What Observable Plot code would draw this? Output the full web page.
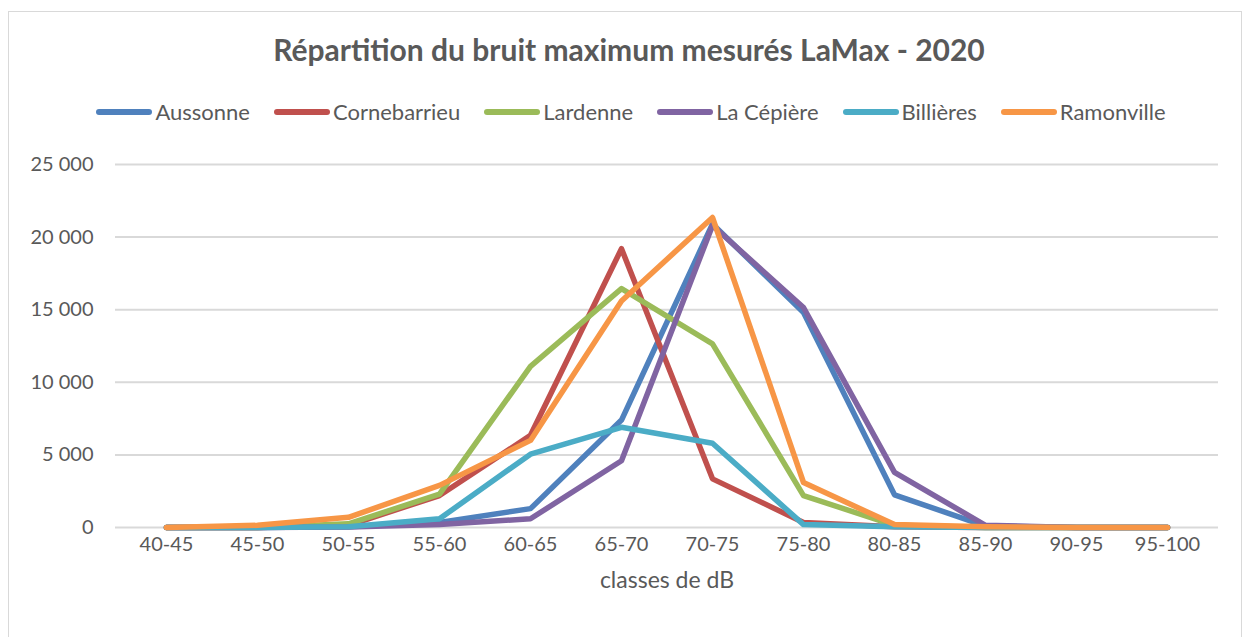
<!DOCTYPE html>
<html>
<head>
<meta charset="utf-8">
<script src="https://cdn.jsdelivr.net/npm/d3@7"></script>
<script src="https://cdn.jsdelivr.net/npm/@observablehq/plot@0.6"></script>
<style>
  html, body { margin: 0; padding: 0; background: #fff; }
  #chart { position: relative; width: 1248px; height: 637px; overflow: hidden; font-family: Lato, "Open Sans", sans-serif; color: #595959; }
  #frame { position: absolute; left: 8px; top: 11px; width: 1234px; height: 640px; border: 1.5px solid #d9d9d9; box-sizing: border-box; }
  #title { position: absolute; left: 0; width: 1258px; top: 31px; text-align: center; font-size: 30px; font-weight: bold; color: #595959; }
  #legend { position: absolute; left: 0; width: 1262px; top: 98px; display: flex; justify-content: center; gap: 24px; font-size: 22px; color: #595959; }
  .item { display: flex; align-items: center; }
  .sw { display: inline-block; width: 56px; height: 6px; border-radius: 3px; margin-right: 3px; }
  #plot { position: absolute; left: 0; top: 140px; }
</style>
</head>
<body>
<div id="chart">
  <div id="frame"></div>
  <div id="title"></div>
  <div id="legend"></div>
  <div id="plot"></div>
</div>
<script>
const titleText = "Répartition du bruit maximum mesurés LaMax - 2020";
const xLabel = "classes de dB";
const categories = ["40-45","45-50","50-55","55-60","60-65","65-70","70-75","75-80","80-85","85-90","90-95","95-100"];
const seriesNames = ["Aussonne","Cornebarrieu","Lardenne","La Cépière","Billières","Ramonville"];
const seriesColors = ["#4F81BD","#C0504D","#9BBB59","#8064A2","#4BACC6","#F79646"];
const aussonne     = [0, 0, 50, 350, 1300, 7400, 20900, 14800, 2250, 100, 0, 0];
const cornebarrieu = [0, 0, 150, 2200, 6350, 19200, 3350, 350, 50, 0, 0, 0];
const lardenne     = [0, 0, 250, 2300, 11100, 16450, 12650, 2200, 150, 0, 0, 0];
const laCepiere    = [0, 0, 30, 200, 600, 4600, 20800, 15150, 3800, 150, 0, 0];
const billieres    = [0, 0, 50, 600, 5050, 6900, 5800, 200, 50, 0, 0, 0];
const ramonville   = [0, 150, 700, 2900, 6000, 15600, 21350, 3100, 200, 50, 0, 0];
const yTicks = [0, 5000, 10000, 15000, 20000, 25000];

const allValues = [aussonne, cornebarrieu, lardenne, laCepiere, billieres, ramonville];

document.getElementById("title").textContent = titleText;
const legend = document.getElementById("legend");
seriesNames.forEach((name, i) => {
  const it = document.createElement("div");
  it.className = "item";
  const sw = document.createElement("span");
  sw.className = "sw";
  sw.style.background = seriesColors[i];
  const tx = document.createElement("span");
  tx.textContent = name;
  it.appendChild(sw); it.appendChild(tx);
  legend.appendChild(it);
});

const fmt = d => d3.format(",")(d).replace(/,/g, "\u202F");

const lineMarks = seriesNames.map((name, i) =>
  Plot.line(categories.map((c, j) => ({cat: c, v: allValues[i][j]})), {
    x: "cat", y: "v", stroke: seriesColors[i], strokeWidth: 5.5,
    strokeLinejoin: "round", strokeLinecap: "round"
  })
);

const chart = Plot.plot({
  width: 1248,
  height: 470,
  marginTop: 24,
  marginBottom: 83,
  marginLeft: 115,
  marginRight: 30,
  style: { fontFamily: "Lato, 'Open Sans', sans-serif", color: "#595959", background: "transparent" },
  x: { type: "point", domain: categories, padding: 0.5 },
  y: { domain: [0, 25000] },
  marks: [
    Plot.gridY(yTicks, { stroke: "#d9d9d9", strokeOpacity: 1, strokeWidth: 2 }),
    Plot.axisY(yTicks, { tickSize: 0, tickPadding: 22, tickFormat: fmt, fontSize: 20, label: null }),
    Plot.axisX({ tickSize: 0, tickPadding: 9, fontSize: 20, label: xLabel, labelAnchor: "center", labelOffset: 60, labelArrow: "none" }),
    ...lineMarks
  ]
});
chart.querySelectorAll("[aria-label='x-axis label']").forEach(el => el.setAttribute("font-size", 23));
document.getElementById("plot").appendChild(chart);
</script>
</body>
</html>
